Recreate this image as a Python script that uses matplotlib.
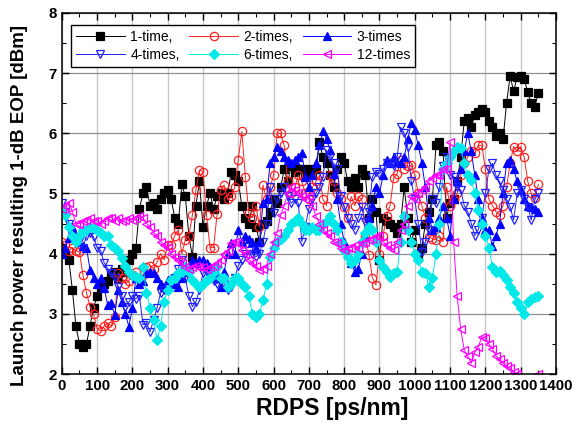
import numpy as np
from matplotlib import pyplot as plt
from matplotlib.ticker import MultipleLocator

rdps = np.arange(0, 1351, 10)

one_time = [
    4.1, 4.0, 3.9, 3.4, 2.8, 2.5, 2.45, 2.5, 2.8, 3.1,
    3.3, 3.45, 3.5, 3.55, 3.65, 3.7, 3.6, 3.75, 3.7, 3.9,
    4.0, 4.1, 4.75, 5.0, 5.1, 4.8, 4.85, 4.75, 4.9, 5.0,
    5.05, 4.9, 4.6, 4.5, 5.15, 4.95, 4.3, 3.95, 4.8, 5.2,
    4.45, 4.8, 5.0, 4.75, 4.95, 5.0, 4.9, 5.0, 5.35, 5.3,
    5.2, 4.8, 4.6, 4.5, 4.8, 4.45, 4.2, 4.5, 4.55, 4.7,
    4.9, 4.85, 5.1, 5.4, 5.2, 5.45, 5.35, 5.4, 5.4, 5.3,
    5.4, 5.35, 5.4, 5.85, 5.6, 5.5, 5.3, 5.1, 5.4, 5.6,
    5.5, 5.2, 5.1, 5.25, 5.1, 5.4, 5.3, 4.6, 4.9, 4.7,
    3.9, 4.6, 4.55, 4.5, 4.45, 4.35, 4.5, 5.1, 4.6, 4.2,
    4.4, 3.98, 4.1, 4.5, 4.7, 4.9, 5.8, 5.85, 5.7, 4.6,
    4.85, 4.9, 5.2, 5.6, 6.2, 6.25, 6.1, 6.3, 6.35, 6.4,
    6.35, 6.2, 6.1, 5.95, 6.0, 5.9, 6.5, 6.95, 6.7, 6.93,
    6.95, 6.9, 6.68, 6.5, 6.44, 6.67]

two_times = [
    4.2, 4.15, 4.05, 4.1, 4.05, 4.03, 3.65, 3.35, 3.12, 3.0,
    2.75, 2.72, 2.8, 2.85, 2.8, 2.95, 3.68, 3.6, 3.5, 3.55,
    3.65, 3.7, 3.6, 3.65, 3.78, 3.8, 3.75, 3.86, 4.0, 3.9,
    4.14, 4.15, 4.3, 4.4, 4.0, 4.23, 4.3, 4.64, 5.06, 5.39,
    5.36, 4.64, 4.1, 4.1, 4.66, 5.06, 5.14, 4.9, 4.95, 5.1,
    5.56, 6.03, 5.28, 4.67, 4.6, 4.8, 4.45, 5.14, 4.9, 5.1,
    5.3, 6.0, 6.0, 5.8, 5.2, 5.0, 5.1, 5.3, 5.2, 5.0,
    4.9, 5.1, 5.2, 5.3, 4.9, 4.8, 5.3, 5.2, 5.0, 4.9,
    4.78, 4.6, 4.95, 4.8, 4.95, 4.9, 4.3, 3.98, 3.6, 3.48,
    4.0, 4.3, 4.62, 4.8, 5.25, 5.33, 5.56, 5.4, 5.45, 5.47,
    5.3, 5.0, 4.8, 4.6, 4.28, 4.25, 4.23, 4.3, 4.2, 5.11,
    4.8, 4.9, 5.0, 5.3, 5.5, 5.6, 5.7, 5.67, 5.8, 5.8,
    5.4, 4.9, 4.8, 4.7, 4.65, 4.8, 5.1, 5.5, 5.78, 5.7,
    5.78, 5.6, 5.2, 5.0, 4.92, 5.15]

three_times = [
    4.0, 4.1, 4.26, 4.45, 4.3, 4.2, 4.12, 4.1, 3.73, 3.6,
    3.5, 3.6, 3.43, 3.15, 3.18, 2.98, 3.4, 3.2, 3.0, 2.79,
    3.1, 3.6, 3.5, 3.55, 3.68, 3.7, 3.68, 3.6, 3.5, 3.45,
    3.56, 3.6, 3.5, 3.45, 3.6, 3.7, 3.8, 3.9, 3.85, 3.9,
    3.9, 3.85, 3.78, 3.7, 3.6, 3.45, 3.7, 4.0, 4.17, 4.0,
    4.4, 4.2, 4.3, 4.25, 4.2, 4.1, 4.2, 4.84, 4.9, 5.5,
    5.6, 5.78, 5.7, 5.61, 5.55, 5.5, 5.56, 5.6, 5.67, 5.28,
    5.1, 5.3, 5.5, 5.8, 6.03, 5.9, 5.72, 5.33, 4.9, 4.5,
    4.2, 4.0, 3.84, 3.7, 3.75, 4.0, 4.3, 4.59, 4.8, 5.1,
    5.0, 5.3, 5.56, 5.5, 5.6, 5.53, 5.5, 5.6, 5.9, 6.17,
    6.05, 5.8, 5.5, 5.1, 4.6, 4.4, 4.45, 4.6, 4.8, 4.6,
    4.3, 4.9, 5.2, 5.4, 5.7, 6.0, 5.7, 5.3, 4.9, 4.6,
    4.4, 4.4, 4.12, 4.3, 4.5, 5.0, 5.5, 5.55, 5.4, 5.2,
    5.06, 4.9, 4.8, 4.78, 4.75, 4.7]

four_times = [
    4.84, 4.7, 4.5, 4.3, 4.25, 4.2, 4.1, 4.3, 4.35, 4.28,
    4.1, 4.05, 3.85, 3.75, 3.68, 3.6, 3.45, 3.3, 3.12, 3.2,
    3.3, 3.25, 3.3, 2.82, 2.85, 2.7, 2.9, 3.1, 3.35, 3.4,
    3.45, 3.5, 3.6, 3.75, 3.9, 3.6, 3.3, 3.12, 3.2, 3.4,
    3.68, 3.7, 3.6, 3.55, 3.5, 3.6, 3.5, 3.4, 3.45, 3.6,
    3.8, 3.9, 4.0, 4.05, 4.0, 3.95, 4.0, 4.2, 4.5, 5.11,
    4.67, 4.9, 5.0, 5.1, 4.95, 4.84, 4.9, 4.84, 4.2, 4.45,
    4.75, 4.9, 5.0, 5.1, 5.28, 5.72, 5.6, 5.5, 5.4, 4.95,
    4.78, 4.6, 4.5, 4.4, 4.6, 4.78, 4.53, 4.7, 5.28, 5.36,
    5.33, 5.4, 5.5, 5.5, 5.45, 5.6, 6.1, 6.0, 5.78, 5.2,
    4.9, 4.5, 4.03, 4.2, 4.4, 4.9, 4.85, 5.1, 5.45, 5.6,
    5.3, 5.28, 5.1, 5.06, 4.8, 4.7, 4.5, 4.3, 4.4, 4.6,
    5.0, 5.4, 5.5, 5.3, 5.2, 5.06, 4.9, 4.78, 4.56, 5.0,
    5.06, 4.9, 4.78, 4.56, 4.9, 5.0]

six_times = [
    4.75, 4.65, 4.45, 4.3, 4.2, 4.3, 4.4, 4.4, 4.45, 4.43,
    4.4, 4.35, 4.3, 4.3, 4.15, 4.1, 4.05, 3.92, 3.8, 3.7,
    3.65, 3.62, 3.6, 3.78, 3.35, 3.1, 2.9, 2.57, 2.8, 3.2,
    3.4, 3.56, 3.6, 3.68, 3.7, 3.78, 3.7, 3.56, 3.5, 3.45,
    3.5, 3.56, 3.6, 3.7, 3.78, 3.6, 3.6, 3.45, 3.5, 3.6,
    3.6, 3.5, 3.45, 3.3, 3.0, 2.95, 3.0, 3.23, 3.5, 3.95,
    4.1, 4.2, 4.25, 4.3, 4.4, 4.5, 4.55, 4.6, 4.5, 4.4,
    4.4, 4.45, 4.4, 4.4, 4.5, 4.55, 4.62, 4.5, 4.4, 4.2,
    4.06, 3.95, 3.84, 3.9, 4.0, 4.2, 4.35, 4.45, 4.4, 4.2,
    3.9, 3.78, 3.7, 3.62, 3.68, 3.7, 4.2, 4.62, 4.4, 4.2,
    4.0, 3.9, 3.7, 3.68, 3.45, 3.6, 4.0, 4.5, 5.4, 5.5,
    5.6, 5.7, 5.78, 5.75, 5.5, 5.3, 5.22, 5.0, 4.73, 4.5,
    4.3, 4.1, 3.78, 3.7, 3.72, 3.65, 3.56, 3.45, 3.35, 3.2,
    3.1, 3.0, 3.2, 3.25, 3.28, 3.3]

twelve_times = [
    4.75, 4.8, 4.85, 4.7, 4.5, 4.5, 4.55, 4.56, 4.6, 4.55,
    4.55, 4.5, 4.55, 4.6, 4.6, 4.55, 4.6, 4.55, 4.56, 4.6,
    4.56, 4.6, 4.62, 4.6, 4.5, 4.45, 4.35, 4.3, 4.2, 4.15,
    4.1, 4.0, 3.95, 3.9, 3.85, 3.78, 3.75, 3.78, 3.8, 3.78,
    3.78, 3.75, 3.78, 3.8, 3.85, 3.9, 4.0, 4.05, 4.17, 4.2,
    4.17, 4.06, 4.0, 3.9, 3.85, 3.8, 3.73, 3.75, 3.8, 4.0,
    4.2, 4.35, 4.64, 4.8, 5.0, 5.1, 5.05, 5.0, 4.95, 4.9,
    4.95, 4.8, 4.62, 4.5, 4.4, 4.35, 4.3, 4.2, 4.17, 4.1,
    4.06, 4.1, 4.1, 4.15, 4.1, 4.17, 4.2, 4.23, 4.25, 4.3,
    4.3, 4.2, 4.15, 4.1, 4.06, 4.2, 4.4, 4.5, 4.8, 4.95,
    4.9, 5.0, 5.05, 5.1, 5.2, 5.25, 5.3, 5.3, 5.4, 5.4,
    5.85, 4.2, 3.3, 2.75, 2.4, 2.3, 2.18, 2.36, 2.45, 2.62,
    2.6, 2.5, 2.42, 2.3, 2.25, 2.18, 2.13, 2.1, 2.04, 2.0,
    1.85, 1.85, 1.85, 1.85, 1.85, 2.0]

series = [
    ("1-time,", one_time, "black", "s", "black"),
    ("2-times,", two_times, "#ff2020", "o", "none"),
    ("3-times", three_times, "#0000ff", "^", "#0000ff"),
    ("4-times,", four_times, "#2020ff", "v", "none"),
    ("6-times,", six_times, "#00e8e8", "D", "#00e8e8"),
    ("12-times", twelve_times, "#ff00ff", "<", "none"),
]

plt.rcParams['font.family'] = ['Liberation Sans', 'DejaVu Sans']

fig = plt.figure(figsize=(5.72, 4.29), dpi=100)
ax = fig.add_axes([0.108, 0.128, 0.864, 0.842])

lines = {}
for name, vals, col, mk, fc in series:
    ms = 5.2 if mk == "D" else 6
    l, = ax.plot(rdps, vals, color=col, linewidth=0.7, marker=mk, markersize=ms,
                 markerfacecolor=fc, markeredgecolor=col, markeredgewidth=0.9,
                 label=name)
    lines[name] = l

ax.set_xlim(0, 1400)
ax.set_ylim(2, 8)
ax.xaxis.set_major_locator(MultipleLocator(100))
ax.xaxis.set_minor_locator(MultipleLocator(50))
ax.yaxis.set_major_locator(MultipleLocator(1))
ax.yaxis.set_minor_locator(MultipleLocator(0.5))
ax.tick_params(which='both', direction='in', top=True, right=True)
ax.tick_params(which='major', length=5, width=1, labelsize=10.8)
ax.tick_params(which='minor', length=3, width=0.8)
for lab in ax.get_xticklabels() + ax.get_yticklabels():
    lab.set_fontweight('bold')
ax.xaxis.grid(True, color='#c8c8c8', linewidth=1)
ax.yaxis.grid(True, color='#909090', linewidth=0.9)
ax.set_axisbelow(True)
for s in ax.spines.values():
    s.set_linewidth(1.1)

ax.set_xlabel("RDPS [ps/nm]", fontsize=16.5, fontweight='bold')
ax.xaxis.set_label_coords(0.547, -0.064)
ax.set_ylabel("Launch power resulting 1-dB EOP [dBm]", fontsize=13.5,
              fontweight='bold')
ax.yaxis.set_label_coords(-0.068, 0.468)

order = ["1-time,", "4-times,", "2-times,", "6-times,", "3-times", "12-times"]
leg = ax.legend([lines[k] for k in order], order, ncol=3, loc='upper left',
                bbox_to_anchor=(0.005, 0.985), fontsize=10, frameon=True,
                fancybox=False, edgecolor='black', framealpha=1,
                handlelength=3.5, columnspacing=0.7, handletextpad=0.4,
                borderpad=0.35, labelspacing=0.3)
leg.get_frame().set_linewidth(1)

fig.savefig("out.png", dpi=100)
